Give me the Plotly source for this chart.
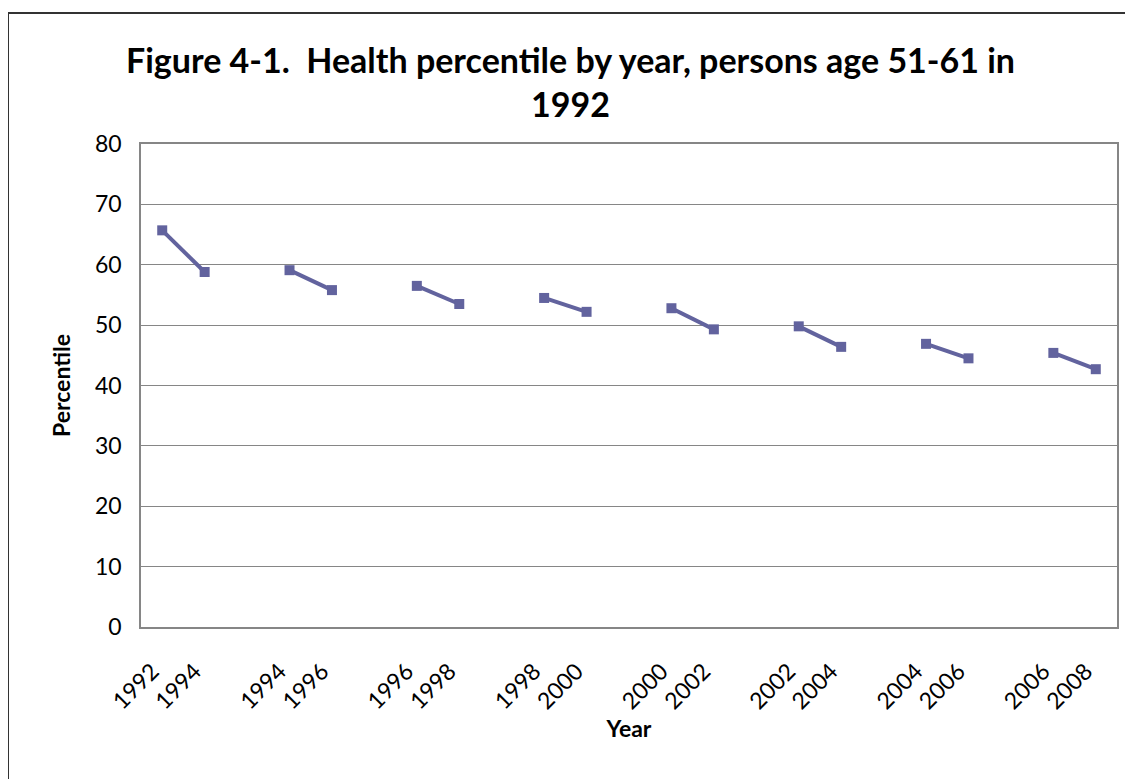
import plotly.graph_objects as go

# each wave pair: baseline year -> follow-up year
start_years = [1992, 1994, 1996, 1998, 2000, 2002, 2004, 2006]
end_years = [1994, 1996, 1998, 2000, 2002, 2004, 2006, 2008]
start_pct = [65.7, 59.1, 56.5, 54.5, 52.8, 49.8, 46.9, 45.4]
end_pct = [58.8, 55.8, 53.5, 52.2, 49.3, 46.4, 44.5, 42.7]

# slots on the x axis: two per pair, then an empty slot
xs, ys, tickvals, ticktext = [], [], [], []
for i, (y0, y1, p0, p1) in enumerate(zip(start_years, end_years, start_pct, end_pct)):
    xs += [3 * i, 3 * i + 1, None]
    ys += [p0, p1, None]
    tickvals += [3 * i, 3 * i + 1]
    ticktext += [str(y0), str(y1)]

# page has an 8px body margin, so the figure is a bit smaller than the window
W, H = 1125, 771
L, R, T, B = 133, 16, 136, 152
pw, ph = W - L - R, H - T - B

fig = go.Figure()
fig.add_trace(go.Scatter(
    x=xs, y=ys, mode="lines+markers", connectgaps=False,
    line=dict(color="#62639E", width=4),
    marker=dict(symbol="square", size=10, color="#62639E"),
    showlegend=False,
))

font = "Lato, 'Open Sans', sans-serif"
fig.update_layout(
    width=W, height=H,
    margin=dict(l=L, r=R, t=T, b=B),
    paper_bgcolor="white", plot_bgcolor="white",
    font=dict(family=font, color="black"),
    title=dict(
        text="<b>Figure 4-1.  Health percentile by year, persons age 51-61 in<br>1992</b>",
        x=0.5, xanchor="center", y=1 - 65 / H, yanchor="top",
        font=dict(size=34, family=font),
    ),
)
fig.update_xaxes(
    range=[-0.5, 22.5], tickvals=tickvals, ticktext=ticktext, tickangle=-45,
    showgrid=False, zeroline=False, showline=True, linecolor="#868686", linewidth=1.5,
    mirror=True, ticks="", tickfont=dict(size=23),
    ticklabelstandoff=20, ticklabelshift=-10,
    title=dict(text="<b>Year</b>", font=dict(size=23), standoff=4),
)
fig.update_yaxes(
    range=[0, 80], dtick=10, showgrid=True, gridcolor="#868686", gridwidth=1,
    zeroline=False, showline=True, linecolor="#868686", linewidth=1.5, mirror=True,
    ticks="", tickfont=dict(size=23), ticklabelstandoff=13,
    title=dict(text="<b>Percentile</b>", font=dict(size=23), standoff=18),
)
# outer chart frame
fig.add_shape(
    type="rect", xref="paper", yref="paper",
    x0=(0 - L) / pw, x1=(W + 10 - L) / pw,
    y0=(T + ph - (H + 10)) / ph, y1=(T + ph - 5) / ph,
    line=dict(color="#333333", width=2), fillcolor="rgba(0,0,0,0)", layer="below",
)

fig.write_html("out.html")
